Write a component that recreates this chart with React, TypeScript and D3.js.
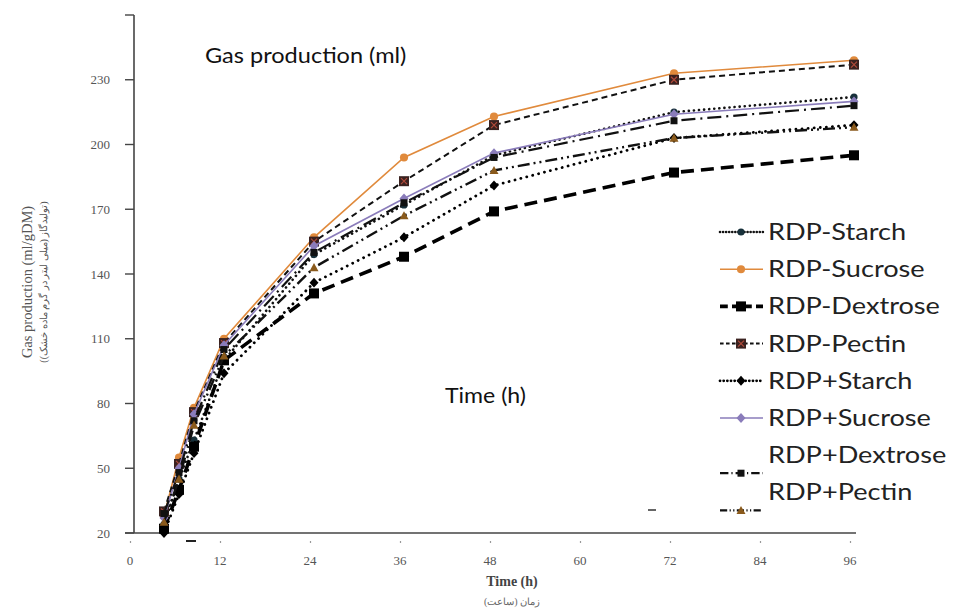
import React from "react";
import * as d3 from "d3";

const times = [4, 6, 8, 12, 24, 36, 48, 72, 96];
const seriesNames = [
  "RDP-Starch",
  "RDP-Sucrose",
  "RDP-Dextrose",
  "RDP-Pectin",
  "RDP+Starch",
  "RDP+Sucrose",
  "RDP+Dextrose",
  "RDP+Pectin",
];
const rdpMinusStarch = [24, 45, 63, 100, 149, 172, 195, 215, 222];
const rdpMinusSucrose = [28, 55, 78, 110, 157, 194, 213, 233, 239];
const rdpMinusDextrose = [22, 40, 60, 100, 131, 148, 169, 187, 195];
const rdpMinusPectin = [30, 52, 76, 108, 155, 183, 209, 230, 237];
const rdpPlusStarch = [20, 38, 57, 94, 136, 157, 181, 203, 209];
const rdpPlusSucrose = [27, 50, 75, 107, 153, 175, 196, 214, 220];
const rdpPlusDextrose = [29, 48, 72, 105, 150, 173, 194, 211, 218];
const rdpPlusPectin = [25, 45, 70, 102, 143, 167, 188, 203, 208];
const seriesValues = [
  rdpMinusStarch,
  rdpMinusSucrose,
  rdpMinusDextrose,
  rdpMinusPectin,
  rdpPlusStarch,
  rdpPlusSucrose,
  rdpPlusDextrose,
  rdpPlusPectin,
];
const yTicks = [20, 50, 80, 110, 140, 170, 200, 230, 260];
const xTicks = [0, 12, 24, 36, 48, 60, 72, 84, 96];

type Style = {
  stroke: string;
  width: number;
  dash: string;
  cap: "round" | "butt";
  marker: "circle" | "square" | "squareX" | "diamond" | "triangle";
  fill: string;
  size: number;
};

const styles: Style[] = [
  { stroke: "#111", width: 2.6, dash: "0.1 5", cap: "round", marker: "circle", fill: "#17303a", size: 8 },
  { stroke: "#e08a3c", width: 1.6, dash: "", cap: "butt", marker: "circle", fill: "#e08a3c", size: 9 },
  { stroke: "#000", width: 3.6, dash: "13 7", cap: "butt", marker: "square", fill: "#000", size: 10 },
  { stroke: "#111", width: 2, dash: "6 4", cap: "butt", marker: "squareX", fill: "#3a2220", size: 10 },
  { stroke: "#000", width: 2.8, dash: "0.1 6", cap: "round", marker: "diamond", fill: "#000", size: 9 },
  { stroke: "#8a7cba", width: 1.6, dash: "", cap: "butt", marker: "diamond", fill: "#8a7cba", size: 9 },
  { stroke: "#111", width: 2.2, dash: "14 5 2 5", cap: "butt", marker: "square", fill: "#111", size: 7 },
  { stroke: "#111", width: 2.4, dash: "12 4 2 4 2 4", cap: "butt", marker: "triangle", fill: "#8a5a1c", size: 9 },
];

const W = 954;
const H = 615;

function Marker({ kind, x, y, fill, size }: { kind: Style["marker"]; x: number; y: number; fill: string; size: number }) {
  const s = size / 2;
  if (kind === "circle") return <circle cx={x} cy={y} r={s * 0.9} fill={fill} />;
  if (kind === "square") return <rect x={x - s} y={y - s} width={size} height={size} fill={fill} />;
  if (kind === "squareX")
    return (
      <g>
        <rect x={x - s} y={y - s} width={size} height={size} fill={fill} />
        <path d={`M${x - s + 2},${y - s + 2}L${x + s - 2},${y + s - 2}M${x + s - 2},${y - s + 2}L${x - s + 2},${y + s - 2}`} stroke="#b04a3a" strokeWidth={1.2} />
      </g>
    );
  if (kind === "diamond")
    return <path d={`M${x},${y - s * 1.1}L${x + s},${y}L${x},${y + s * 1.1}L${x - s},${y}Z`} fill={fill} />;
  return <path d={`M${x},${y - s}L${x + s},${y + s * 0.8}L${x - s},${y + s * 0.8}Z`} fill={fill} />;
}

export default function App() {
  const x = d3.scaleLinear().domain([0, 96]).range([134, 854]);
  const y = d3.scaleLinear().domain([20, 260]).range([533, 15]);
  const line = d3
    .line<[number, number]>()
    .x((d) => x(d[0]))
    .y((d) => y(d[1]));

  const legendX = 720;
  const legendTop = 232;
  const legendStep = 37.2;

  return (
    <svg
      width={W}
      height={H}
      viewBox={`0 0 ${W} ${H}`}
      style={{ position: "absolute", left: 0, top: 0, background: "#fff" }}
    >
      <rect width={W} height={H} fill="#fff" />
      {/* axes */}
      <line x1={x(0)} x2={x(0)} y1={y(260)} y2={y(20)} stroke="#444" strokeWidth={1.6} />
      <line x1={x(0) - 9} x2={x(96) + 2} y1={y(20)} y2={y(20)} stroke="#444" strokeWidth={1.6} />
      {yTicks.map((t) => (
        <g key={"yt" + t}>
          <line x1={x(0) - 9} x2={x(0)} y1={y(t)} y2={y(t)} stroke="#444" strokeWidth={1.4} />
          {t !== 260 && (
            <text
              x={110}
              y={y(t) + 4.5}
              textAnchor="end"
              fontFamily="Liberation Serif, serif"
              fontSize={13}
              fill="#555"
            >
              {t}
            </text>
          )}
        </g>
      ))}
      {xTicks.map((t) => (
        <g key={"xt" + t}>
          <line x1={x(t) - 3.5} x2={x(t) - 3.5} y1={y(20) + 8} y2={y(20) + 10} stroke="#999" strokeWidth={1.2} />
          <text
            x={x(t) - 4}
            y={565}
            textAnchor="middle"
            fontFamily="Liberation Serif, serif"
            fontSize={13}
            fill="#555"
          >
            {t}
          </text>
        </g>
      ))}
      <text x={512} y={586} textAnchor="middle" fontFamily="Liberation Serif, serif" fontWeight="bold" fontSize={14} fill="#444">
        Time (h)
      </text>
      <text x={512} y={605} textAnchor="middle" fontFamily="Liberation Serif, serif" fontSize={10} fill="#666">
        زمان (ساعت)
      </text>
      <g transform="translate(32,282) rotate(-90)">
        <text x={0} y={0} textAnchor="middle" fontFamily="Liberation Serif, serif" fontSize={14.5} fill="#555">
          Gas production (ml/gDM)
        </text>
        <text x={0} y={15} textAnchor="middle" fontFamily="Liberation Serif, serif" fontSize={10} fill="#555">
          (تولیدگاز (میلی لیتر در گرم ماده خشک))
        </text>
      </g>

      {/* stray marks */}
      <line x1={186} x2={196} y1={541} y2={541} stroke="#222" strokeWidth={2} />
      <line x1={648} x2={656} y1={510} y2={510} stroke="#333" strokeWidth={1.5} />

      {/* series */}
      {seriesValues.map((vals, i) => {
        const st = styles[i];
        const pts = times.map((t, j) => [t, vals[j]] as [number, number]);
        return (
          <g key={"s" + i}>
            <path
              d={line(pts) || ""}
              fill="none"
              stroke={st.stroke}
              strokeWidth={st.width}
              strokeDasharray={st.dash || undefined}
              strokeLinecap={st.cap}
            />
            {pts.map((p, j) => (
              <Marker key={j} kind={st.marker} x={x(p[0])} y={y(p[1])} fill={st.fill} size={st.size} />
            ))}
          </g>
        );
      })}

      {/* overlay titles */}
      <text transform="translate(205,63) scale(1.07,1)" fontFamily="Lato, sans-serif" fontSize={22} fill="#111">
        Gas production (ml)
      </text>
      <text transform="translate(445,403) scale(1.1,1)" fontFamily="Lato, sans-serif" fontSize={21} fill="#111">
        Time (h)
      </text>

      {/* legend */}
      {seriesNames.map((name, i) => {
        const st = styles[i];
        const cy = legendTop + i * legendStep;
        const my = i >= 6 ? cy + 18 : cy;
        return (
          <g key={"lg" + i}>
            <line
              x1={legendX}
              x2={legendX + 43}
              y1={my}
              y2={my}
              stroke={st.stroke}
              strokeWidth={st.width}
              strokeDasharray={st.dash ? st.dash.split(" ").map((v) => String(Number(v) * 0.6)).join(" ") : undefined}
              strokeLinecap={st.cap}
            />
            <Marker kind={st.marker} x={legendX + 21} y={my} fill={st.fill} size={st.size} />
            <text transform={`translate(768,${cy + 8}) scale(1.18,1)`} fontFamily="Lato, sans-serif" fontSize={23} fill="#222">
              {name}
            </text>
          </g>
        );
      })}
    </svg>
  );
}
